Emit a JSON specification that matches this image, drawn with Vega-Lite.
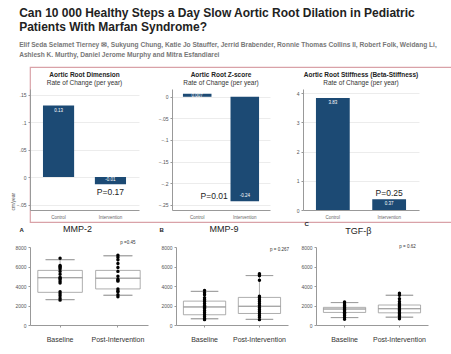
{
  "$schema": "https://vega.github.io/schema/vega-lite/v6.json",
  "background": "white",
  "padding": {"left": 10, "top": 6, "right": 0, "bottom": 0},
  "config": {
    "font": "Liberation Sans",
    "view": {"stroke": null},
    "axis": {"domainColor": "#999", "tickColor": "#999", "labelColor": "#555", "gridColor": "#ececec", "tickSize": 2, "labelFontSize": 5, "titleFontSize": 5, "titleColor": "#555", "titleFontWeight": "normal", "labelPadding": 2, "labelOverlap": false}
  },
  "title": {
    "text": ["Can 10 000 Healthy Steps a Day Slow Aortic Root Dilation in Pediatric", "Patients With Marfan Syndrome?"],
    "subtitle": ["Elif Seda Selamet Tierney ✉, Sukyung Chung, Katie Jo Stauffer, Jerrid Brabender, Ronnie Thomas Collins II, Robert Folk, Weidang Li,", "Ashlesh K. Murthy, Daniel Jerome Murphy and Mitra Esfandiarei"],
    "anchor": "start",
    "dx": 9,
    "font": "Liberation Sans",
    "fontSize": 12,
    "fontWeight": "bold",
    "color": "#222",
    "lineHeight": 14,
    "subtitleFont": "Liberation Sans",
    "subtitleFontSize": 6.6,
    "subtitleFontWeight": "bold",
    "subtitleColor": "#777",
    "subtitleLineHeight": 10,
    "subtitlePadding": 8,
    "offset": 7
  },
  "spacing": -3,
  "vconcat": [
    {
      "columns": 1,
      "align": "none",
      "spacing": {"row": -151, "column": 0},
      "concat": [
        {
          "width": 427,
          "height": 155,
          "view": {"stroke": "#d9a2a8", "strokeWidth": 1.2},
          "data": {"values": [{"t": ""}]},
          "mark": {"type": "text"},
          "encoding": {"text": {"field": "t"}}
        },
        {
          "hconcat": [
            {
              "width": 109,
              "height": 121,
              "title": {"text": "Aortic Root Dimension", "subtitle": "Rate of Change (per year)", "fontSize": 6.5, "fontWeight": "bold", "color": "#222", "subtitleFontSize": 6.5, "subtitleColor": "#333", "subtitlePadding": 1, "offset": 3, "anchor": "middle"},
              "data": {"values": [{"group": "Control", "v": 0.13, "label": "0.13"}, {"group": "Intervention", "v": -0.013, "label": "-0.01"}]},
              "encoding": {
                "x": {"field": "group", "type": "nominal", "sort": null, "scale": {"paddingInner": 0.4, "paddingOuter": 0.25}, "axis": {"title": null, "labelAngle": 0, "ticks": false, "labelFontSize": 4.5, "labelPadding": 4, "labelColor": "#666"}},
                "y": {"field": "v", "type": "quantitative", "title": "cm/year", "scale": {"domain": [-0.06, 0.16], "nice": false, "zero": false}, "axis": {"values": [-0.05, 0, 0.05, 0.1, 0.15], "labelOverlap": false, "labelExpr": "replace(format(datum.value, '~g'), '0.', '.')", "grid": true, "titleAnchor": "start", "titlePadding": 1}}
              },
              "layer": [
                {"mark": {"type": "bar", "color": "#1c4a74"}},
                {"mark": {"type": "rule", "color": "#e8919d", "strokeWidth": 1}, "encoding": {"y": {"datum": 0, "type": "quantitative", "title": "cm/year", "axis": {"values": [-0.05, 0, 0.05, 0.1, 0.15], "labelOverlap": false, "labelExpr": "replace(format(datum.value, '~g'), '0.', '.')", "grid": true, "titleAnchor": "start", "titlePadding": 1}}}},
                {"transform": [{"filter": "datum.v >= 0"}], "mark": {"type": "text", "color": "white", "fontSize": 4.5, "baseline": "middle", "dy": 5}, "encoding": {"text": {"field": "label"}}},
                {"transform": [{"filter": "datum.v < 0"}], "mark": {"type": "text", "color": "white", "fontSize": 4.5, "baseline": "middle", "dy": -4}, "encoding": {"text": {"field": "label"}}},
                {"data": {"values": [{"group": "Intervention", "v": -0.027, "label": "P=0.17"}]}, "mark": {"type": "text", "fontSize": 8.5, "color": "#222", "baseline": "middle"}, "encoding": {"text": {"field": "label"}}}
              ]
            },
            {
              "width": 98,
              "height": 121,
              "title": {"text": "Aortic Root Z-score", "subtitle": "Rate of Change (per year)", "fontSize": 6.5, "fontWeight": "bold", "color": "#222", "subtitleFontSize": 6.5, "subtitleColor": "#333", "subtitlePadding": 1, "offset": 3, "anchor": "middle"},
              "data": {"values": [{"group": "Control", "v": 0.007, "label": "0.007"}, {"group": "Intervention", "v": -0.242, "label": "-0.24"}]},
              "encoding": {
                "x": {"field": "group", "type": "nominal", "sort": null, "scale": {"paddingInner": 0.4, "paddingOuter": 0.23}, "axis": {"title": null, "labelAngle": 0, "ticks": false, "labelFontSize": 4.5, "labelPadding": 4, "labelColor": "#666"}},
                "y": {"field": "v", "type": "quantitative", "title": null, "scale": {"domain": [-0.262, 0.018], "nice": false, "zero": false}, "axis": {"values": [-0.25, -0.2, -0.15, -0.1, -0.05, 0], "labelOverlap": false, "labelExpr": "replace(format(datum.value, '~g'), '0.', '.')", "grid": true}}
              },
              "layer": [
                {"mark": {"type": "bar", "color": "#1c4a74"}},
                {"mark": {"type": "rule", "color": "#e8919d", "strokeWidth": 1}, "encoding": {"y": {"datum": 0, "type": "quantitative", "title": null, "axis": {"values": [-0.25, -0.2, -0.15, -0.1, -0.05, 0], "labelOverlap": false, "labelExpr": "replace(format(datum.value, '~g'), '0.', '.')", "grid": true}}}},
                {"transform": [{"filter": "datum.v >= 0"}], "mark": {"type": "text", "color": "white", "fontSize": 4.5, "baseline": "middle", "dy": 2}, "encoding": {"text": {"field": "label"}}},
                {"transform": [{"filter": "datum.v < 0"}], "mark": {"type": "text", "color": "white", "fontSize": 4.5, "baseline": "middle", "dy": -5}, "encoding": {"text": {"field": "label"}}},
                {"data": {"values": [{"group": "Control", "v": -0.23, "label": "P=0.01"}]}, "mark": {"type": "text", "fontSize": 8.5, "color": "#222", "baseline": "middle", "dx": 17}, "encoding": {"text": {"field": "label"}}}
              ]
            },
            {
              "width": 116,
              "height": 121,
              "title": {"text": "Aortic Root Stiffness (Beta-Stiffness)", "subtitle": "Rate of Change (per year)", "fontSize": 6.5, "fontWeight": "bold", "color": "#222", "subtitleFontSize": 6.5, "subtitleColor": "#333", "subtitlePadding": 1, "offset": 3, "anchor": "middle"},
              "data": {"values": [{"group": "Control", "v": 3.83, "label": "3.83"}, {"group": "Intervention", "v": 0.37, "label": "0.37"}]},
              "encoding": {
                "x": {"field": "group", "type": "nominal", "sort": null, "scale": {"paddingInner": 0.4, "paddingOuter": 0.23}, "axis": {"title": null, "labelAngle": 0, "ticks": false, "labelFontSize": 4.5, "labelPadding": 4, "labelColor": "#666"}},
                "y": {"field": "v", "type": "quantitative", "title": null, "scale": {"domain": [0, 4.14], "nice": false}, "axis": {"values": [0, 1, 2, 3, 4], "labelOverlap": false, "grid": true}}
              },
              "layer": [
                {"mark": {"type": "bar", "color": "#1c4a74"}},
                {"mark": {"type": "text", "color": "white", "fontSize": 4.5, "baseline": "middle", "dy": 5}, "encoding": {"text": {"field": "label"}}},
                {"data": {"values": [{"group": "Intervention", "v": 0.59, "label": "P=0.25"}]}, "mark": {"type": "text", "fontSize": 8.5, "color": "#222", "baseline": "middle"}, "encoding": {"text": {"field": "label"}}}
              ]
            }
          ],
          "spacing": 33,
          "bounds": "flush"
        }
      ]
    },
    {
      "hconcat": [
        {
          "width": 118,
          "height": 78,
          "title": {"text": "MMP-2", "fontSize": 9, "fontWeight": "normal", "color": "#222", "frame": "bounds", "offset": -8, "dx": -4},
          "encoding": {"x": {"field": "grp", "type": "nominal", "scale": {"domain": ["Baseline", "Post-Intervention"], "paddingInner": 0, "paddingOuter": 0.02}, "axis": {"title": null, "labelAngle": 0, "labelFontSize": 7, "labelColor": "#333", "labelPadding": 8, "tickSize": 2}}},
          "layer": [
            {"data": {"values": [{"grp": "Baseline", "lo": 2600, "q1": 3350, "med": 4850, "q3": 5600, "hi": 6700}, {"grp": "Post-Intervention", "lo": 3050, "q1": 3700, "med": 4800, "q3": 5600, "hi": 7100}]},
             "layer": [
               {"mark": {"type": "rule", "color": "#999", "strokeWidth": 0.8}, "encoding": {"y": {"field": "lo", "type": "quantitative", "title": "A", "scale": {"domain": [0, 8000], "nice": false}, "axis": {"values": [0, 2000, 4000, 6000, 8000], "labelOverlap": false, "format": "d", "grid": false, "titleAngle": 0, "titlePadding": 0, "titleX": -11, "titleY": -18, "titleFontSize": 6, "titleFontWeight": "bold", "titleColor": "#222", "titleAlign": "left", "titleBaseline": "middle"}}, "y2": {"field": "hi"}}},
               {"mark": {"type": "bar", "fill": "white", "stroke": "#999", "strokeWidth": 0.8, "width": {"band": 0.77}}, "encoding": {"y": {"field": "q1", "type": "quantitative", "title": "A", "axis": {"values": [0, 2000, 4000, 6000, 8000], "labelOverlap": false, "format": "d", "grid": false, "titleAngle": 0, "titlePadding": 0, "titleX": -11, "titleY": -18, "titleFontSize": 6, "titleFontWeight": "bold", "titleColor": "#222", "titleAlign": "left", "titleBaseline": "middle"}}, "y2": {"field": "q3"}}},
               {"mark": {"type": "bar", "fill": "white", "stroke": "#999", "strokeWidth": 0.8, "width": {"band": 0.77}}, "encoding": {"y": {"field": "med", "type": "quantitative", "title": "A", "axis": {"values": [0, 2000, 4000, 6000, 8000], "labelOverlap": false, "format": "d", "grid": false, "titleAngle": 0, "titlePadding": 0, "titleX": -11, "titleY": -18, "titleFontSize": 6, "titleFontWeight": "bold", "titleColor": "#222", "titleAlign": "left", "titleBaseline": "middle"}}, "y2": {"field": "med"}}},
               {"mark": {"type": "bar", "fill": "white", "stroke": "#999", "strokeWidth": 0.8, "width": {"band": 0.5}}, "encoding": {"y": {"field": "hi", "type": "quantitative", "title": "A", "axis": {"values": [0, 2000, 4000, 6000, 8000], "labelOverlap": false, "format": "d", "grid": false, "titleAngle": 0, "titlePadding": 0, "titleX": -11, "titleY": -18, "titleFontSize": 6, "titleFontWeight": "bold", "titleColor": "#222", "titleAlign": "left", "titleBaseline": "middle"}}, "y2": {"field": "hi"}}},
               {"mark": {"type": "bar", "fill": "white", "stroke": "#999", "strokeWidth": 0.8, "width": {"band": 0.5}}, "encoding": {"y": {"field": "lo", "type": "quantitative", "title": "A", "axis": {"values": [0, 2000, 4000, 6000, 8000], "labelOverlap": false, "format": "d", "grid": false, "titleAngle": 0, "titlePadding": 0, "titleX": -11, "titleY": -18, "titleFontSize": 6, "titleFontWeight": "bold", "titleColor": "#222", "titleAlign": "left", "titleBaseline": "middle"}}, "y2": {"field": "lo"}}}
             ]},
            {"data": {"values": [
              {"grp": "Baseline", "v": 6850}, {"grp": "Baseline", "v": 6100}, {"grp": "Baseline", "v": 6000}, {"grp": "Baseline", "v": 5900}, {"grp": "Baseline", "v": 5750}, {"grp": "Baseline", "v": 5500}, {"grp": "Baseline", "v": 5200}, {"grp": "Baseline", "v": 4900}, {"grp": "Baseline", "v": 4800}, {"grp": "Baseline", "v": 4700}, {"grp": "Baseline", "v": 4500}, {"grp": "Baseline", "v": 4300}, {"grp": "Baseline", "v": 3400}, {"grp": "Baseline", "v": 3200}, {"grp": "Baseline", "v": 3000}, {"grp": "Baseline", "v": 2750}, {"grp": "Baseline", "v": 2550},
              {"grp": "Post-Intervention", "v": 7150}, {"grp": "Post-Intervention", "v": 6950}, {"grp": "Post-Intervention", "v": 6700}, {"grp": "Post-Intervention", "v": 6300}, {"grp": "Post-Intervention", "v": 5900}, {"grp": "Post-Intervention", "v": 5500}, {"grp": "Post-Intervention", "v": 5000}, {"grp": "Post-Intervention", "v": 4700}, {"grp": "Post-Intervention", "v": 4600}, {"grp": "Post-Intervention", "v": 4500}, {"grp": "Post-Intervention", "v": 3700}, {"grp": "Post-Intervention", "v": 3500}, {"grp": "Post-Intervention", "v": 3400}, {"grp": "Post-Intervention", "v": 3100}, {"grp": "Post-Intervention", "v": 2900}
             ]},
             "mark": {"type": "circle", "size": 12, "color": "black", "opacity": 1}, "encoding": {"y": {"field": "v", "type": "quantitative", "title": "A", "axis": {"values": [0, 2000, 4000, 6000, 8000], "labelOverlap": false, "format": "d", "grid": false, "titleAngle": 0, "titlePadding": 0, "titleX": -11, "titleY": -18, "titleFontSize": 6, "titleFontWeight": "bold", "titleColor": "#222", "titleAlign": "left", "titleBaseline": "middle"}}}},
            {"data": {"values": [{"grp": "Post-Intervention", "v": 8400, "label": "p =0.45"}]}, "mark": {"type": "text", "fontSize": 4.5, "color": "#333", "dx": 10}, "encoding": {"y": {"field": "v", "type": "quantitative", "title": "A", "axis": {"values": [0, 2000, 4000, 6000, 8000], "labelOverlap": false, "format": "d", "grid": false, "titleAngle": 0, "titlePadding": 0, "titleX": -11, "titleY": -18, "titleFontSize": 6, "titleFontWeight": "bold", "titleColor": "#222", "titleAlign": "left", "titleBaseline": "middle"}}, "text": {"field": "label"}}}
          ]
        },
        {
          "width": 112,
          "height": 78,
          "title": {"text": "MMP-9", "fontSize": 9, "fontWeight": "normal", "color": "#222", "frame": "bounds", "offset": -8},
          "encoding": {"x": {"field": "grp", "type": "nominal", "scale": {"domain": ["Baseline", "Post-Intervention"], "paddingInner": 0, "paddingOuter": 0.02}, "axis": {"title": null, "labelAngle": 0, "labelFontSize": 7, "labelColor": "#333", "labelPadding": 8, "tickSize": 2}}},
          "layer": [
            {"data": {"values": [{"grp": "Baseline", "lo": 640, "q1": 1050, "med": 1850, "q3": 2450, "hi": 3450}, {"grp": "Post-Intervention", "lo": 580, "q1": 1180, "med": 1920, "q3": 2830, "hi": 5070}]},
             "layer": [
               {"mark": {"type": "rule", "color": "#999", "strokeWidth": 0.8}, "encoding": {"y": {"field": "lo", "type": "quantitative", "title": "B", "scale": {"domain": [0, 8000], "nice": false}, "axis": {"values": [0, 2000, 4000, 6000, 8000], "labelOverlap": false, "format": "d", "grid": false, "titleAngle": 0, "titlePadding": 0, "titleX": -17, "titleY": -18, "titleFontSize": 6, "titleFontWeight": "bold", "titleColor": "#222", "titleAlign": "left", "titleBaseline": "middle"}}, "y2": {"field": "hi"}}},
               {"mark": {"type": "bar", "fill": "white", "stroke": "#999", "strokeWidth": 0.8, "width": {"band": 0.77}}, "encoding": {"y": {"field": "q1", "type": "quantitative", "title": "B", "axis": {"values": [0, 2000, 4000, 6000, 8000], "labelOverlap": false, "format": "d", "grid": false, "titleAngle": 0, "titlePadding": 0, "titleX": -17, "titleY": -18, "titleFontSize": 6, "titleFontWeight": "bold", "titleColor": "#222", "titleAlign": "left", "titleBaseline": "middle"}}, "y2": {"field": "q3"}}},
               {"mark": {"type": "bar", "fill": "white", "stroke": "#999", "strokeWidth": 0.8, "width": {"band": 0.77}}, "encoding": {"y": {"field": "med", "type": "quantitative", "title": "B", "axis": {"values": [0, 2000, 4000, 6000, 8000], "labelOverlap": false, "format": "d", "grid": false, "titleAngle": 0, "titlePadding": 0, "titleX": -17, "titleY": -18, "titleFontSize": 6, "titleFontWeight": "bold", "titleColor": "#222", "titleAlign": "left", "titleBaseline": "middle"}}, "y2": {"field": "med"}}},
               {"mark": {"type": "bar", "fill": "white", "stroke": "#999", "strokeWidth": 0.8, "width": {"band": 0.5}}, "encoding": {"y": {"field": "hi", "type": "quantitative", "title": "B", "axis": {"values": [0, 2000, 4000, 6000, 8000], "labelOverlap": false, "format": "d", "grid": false, "titleAngle": 0, "titlePadding": 0, "titleX": -17, "titleY": -18, "titleFontSize": 6, "titleFontWeight": "bold", "titleColor": "#222", "titleAlign": "left", "titleBaseline": "middle"}}, "y2": {"field": "hi"}}},
               {"mark": {"type": "bar", "fill": "white", "stroke": "#999", "strokeWidth": 0.8, "width": {"band": 0.5}}, "encoding": {"y": {"field": "lo", "type": "quantitative", "title": "B", "axis": {"values": [0, 2000, 4000, 6000, 8000], "labelOverlap": false, "format": "d", "grid": false, "titleAngle": 0, "titlePadding": 0, "titleX": -17, "titleY": -18, "titleFontSize": 6, "titleFontWeight": "bold", "titleColor": "#222", "titleAlign": "left", "titleBaseline": "middle"}}, "y2": {"field": "lo"}}}
             ]},
            {"data": {"values": [
              {"grp": "Baseline", "v": 3550}, {"grp": "Baseline", "v": 3300}, {"grp": "Baseline", "v": 3100}, {"grp": "Baseline", "v": 2800}, {"grp": "Baseline", "v": 2600}, {"grp": "Baseline", "v": 2400}, {"grp": "Baseline", "v": 2200}, {"grp": "Baseline", "v": 2000}, {"grp": "Baseline", "v": 1900}, {"grp": "Baseline", "v": 1800}, {"grp": "Baseline", "v": 1700}, {"grp": "Baseline", "v": 1500}, {"grp": "Baseline", "v": 1300}, {"grp": "Baseline", "v": 1100}, {"grp": "Baseline", "v": 900}, {"grp": "Baseline", "v": 700}, {"grp": "Baseline", "v": 550},
              {"grp": "Post-Intervention", "v": 5250}, {"grp": "Post-Intervention", "v": 5150}, {"grp": "Post-Intervention", "v": 5050}, {"grp": "Post-Intervention", "v": 4600}, {"grp": "Post-Intervention", "v": 2950}, {"grp": "Post-Intervention", "v": 2800}, {"grp": "Post-Intervention", "v": 2600}, {"grp": "Post-Intervention", "v": 2400}, {"grp": "Post-Intervention", "v": 2200}, {"grp": "Post-Intervention", "v": 2000}, {"grp": "Post-Intervention", "v": 1800}, {"grp": "Post-Intervention", "v": 1600}, {"grp": "Post-Intervention", "v": 1400}, {"grp": "Post-Intervention", "v": 1200}, {"grp": "Post-Intervention", "v": 1000}, {"grp": "Post-Intervention", "v": 800}, {"grp": "Post-Intervention", "v": 550}
             ]},
             "mark": {"type": "circle", "size": 12, "color": "black", "opacity": 1}, "encoding": {"y": {"field": "v", "type": "quantitative", "title": "B", "axis": {"values": [0, 2000, 4000, 6000, 8000], "labelOverlap": false, "format": "d", "grid": false, "titleAngle": 0, "titlePadding": 0, "titleX": -17, "titleY": -18, "titleFontSize": 6, "titleFontWeight": "bold", "titleColor": "#222", "titleAlign": "left", "titleBaseline": "middle"}}}},
            {"data": {"values": [{"grp": "Post-Intervention", "v": 7700, "label": "p = 0.267"}]}, "mark": {"type": "text", "fontSize": 4.5, "color": "#333", "dx": 20}, "encoding": {"y": {"field": "v", "type": "quantitative", "title": "B", "axis": {"values": [0, 2000, 4000, 6000, 8000], "labelOverlap": false, "format": "d", "grid": false, "titleAngle": 0, "titlePadding": 0, "titleX": -17, "titleY": -18, "titleFontSize": 6, "titleFontWeight": "bold", "titleColor": "#222", "titleAlign": "left", "titleBaseline": "middle"}}, "text": {"field": "label"}}}
          ]
        },
        {
          "width": 112,
          "height": 78,
          "title": {"text": "TGF-β", "fontSize": 9, "fontWeight": "normal", "color": "#222", "frame": "bounds", "offset": -16, "dx": -6},
          "encoding": {"x": {"field": "grp", "type": "nominal", "scale": {"domain": ["Baseline", "Post-Intervention"], "paddingInner": 0, "paddingOuter": 0.02}, "axis": {"title": null, "labelAngle": 0, "labelFontSize": 7, "labelColor": "#333", "labelPadding": 8, "tickSize": 2}}},
          "layer": [
            {"data": {"values": [{"grp": "Baseline", "lo": 760, "q1": 1290, "med": 1640, "q3": 1810, "hi": 2300}, {"grp": "Post-Intervention", "lo": 800, "q1": 1250, "med": 1670, "q3": 2050, "hi": 3050}]},
             "layer": [
               {"mark": {"type": "rule", "color": "#999", "strokeWidth": 0.8}, "encoding": {"y": {"field": "lo", "type": "quantitative", "title": "C", "scale": {"domain": [0, 8000], "nice": false}, "axis": {"values": [0, 2000, 4000, 6000, 8000], "labelOverlap": false, "format": "d", "grid": false, "titleAngle": 0, "titlePadding": 0, "titleX": -12, "titleY": -24, "titleFontSize": 6, "titleFontWeight": "bold", "titleColor": "#222", "titleAlign": "left", "titleBaseline": "middle"}}, "y2": {"field": "hi"}}},
               {"mark": {"type": "bar", "fill": "white", "stroke": "#999", "strokeWidth": 0.8, "width": {"band": 0.77}}, "encoding": {"y": {"field": "q1", "type": "quantitative", "title": "C", "axis": {"values": [0, 2000, 4000, 6000, 8000], "labelOverlap": false, "format": "d", "grid": false, "titleAngle": 0, "titlePadding": 0, "titleX": -12, "titleY": -24, "titleFontSize": 6, "titleFontWeight": "bold", "titleColor": "#222", "titleAlign": "left", "titleBaseline": "middle"}}, "y2": {"field": "q3"}}},
               {"mark": {"type": "bar", "fill": "white", "stroke": "#999", "strokeWidth": 0.8, "width": {"band": 0.77}}, "encoding": {"y": {"field": "med", "type": "quantitative", "title": "C", "axis": {"values": [0, 2000, 4000, 6000, 8000], "labelOverlap": false, "format": "d", "grid": false, "titleAngle": 0, "titlePadding": 0, "titleX": -12, "titleY": -24, "titleFontSize": 6, "titleFontWeight": "bold", "titleColor": "#222", "titleAlign": "left", "titleBaseline": "middle"}}, "y2": {"field": "med"}}},
               {"mark": {"type": "bar", "fill": "white", "stroke": "#999", "strokeWidth": 0.8, "width": {"band": 0.5}}, "encoding": {"y": {"field": "hi", "type": "quantitative", "title": "C", "axis": {"values": [0, 2000, 4000, 6000, 8000], "labelOverlap": false, "format": "d", "grid": false, "titleAngle": 0, "titlePadding": 0, "titleX": -12, "titleY": -24, "titleFontSize": 6, "titleFontWeight": "bold", "titleColor": "#222", "titleAlign": "left", "titleBaseline": "middle"}}, "y2": {"field": "hi"}}},
               {"mark": {"type": "bar", "fill": "white", "stroke": "#999", "strokeWidth": 0.8, "width": {"band": 0.5}}, "encoding": {"y": {"field": "lo", "type": "quantitative", "title": "C", "axis": {"values": [0, 2000, 4000, 6000, 8000], "labelOverlap": false, "format": "d", "grid": false, "titleAngle": 0, "titlePadding": 0, "titleX": -12, "titleY": -24, "titleFontSize": 6, "titleFontWeight": "bold", "titleColor": "#222", "titleAlign": "left", "titleBaseline": "middle"}}, "y2": {"field": "lo"}}}
             ]},
            {"data": {"values": [
              {"grp": "Baseline", "v": 2350}, {"grp": "Baseline", "v": 2150}, {"grp": "Baseline", "v": 2000}, {"grp": "Baseline", "v": 1850}, {"grp": "Baseline", "v": 1750}, {"grp": "Baseline", "v": 1600}, {"grp": "Baseline", "v": 1450}, {"grp": "Baseline", "v": 1300}, {"grp": "Baseline", "v": 1250}, {"grp": "Baseline", "v": 1150}, {"grp": "Baseline", "v": 1000}, {"grp": "Baseline", "v": 800}, {"grp": "Baseline", "v": 600},
              {"grp": "Post-Intervention", "v": 3250}, {"grp": "Post-Intervention", "v": 3050}, {"grp": "Post-Intervention", "v": 2700}, {"grp": "Post-Intervention", "v": 2400}, {"grp": "Post-Intervention", "v": 2200}, {"grp": "Post-Intervention", "v": 2050}, {"grp": "Post-Intervention", "v": 1900}, {"grp": "Post-Intervention", "v": 1750}, {"grp": "Post-Intervention", "v": 1600}, {"grp": "Post-Intervention", "v": 1450}, {"grp": "Post-Intervention", "v": 1300}, {"grp": "Post-Intervention", "v": 1150}, {"grp": "Post-Intervention", "v": 1000}, {"grp": "Post-Intervention", "v": 850}, {"grp": "Post-Intervention", "v": 650}
             ]},
             "mark": {"type": "circle", "size": 12, "color": "black", "opacity": 1}, "encoding": {"y": {"field": "v", "type": "quantitative", "title": "C", "axis": {"values": [0, 2000, 4000, 6000, 8000], "labelOverlap": false, "format": "d", "grid": false, "titleAngle": 0, "titlePadding": 0, "titleX": -12, "titleY": -24, "titleFontSize": 6, "titleFontWeight": "bold", "titleColor": "#222", "titleAlign": "left", "titleBaseline": "middle"}}}},
            {"data": {"values": [{"grp": "Post-Intervention", "v": 7950, "label": "p = 0.62"}]}, "mark": {"type": "text", "fontSize": 4.5, "color": "#333", "dx": 8}, "encoding": {"y": {"field": "v", "type": "quantitative", "title": "C", "axis": {"values": [0, 2000, 4000, 6000, 8000], "labelOverlap": false, "format": "d", "grid": false, "titleAngle": 0, "titlePadding": 0, "titleX": -12, "titleY": -24, "titleFontSize": 6, "titleFontWeight": "bold", "titleColor": "#222", "titleAlign": "left", "titleBaseline": "middle"}}, "text": {"field": "label"}}}
          ]
        }
      ],
      "spacing": 28,
      "bounds": "flush"
    }
  ]
}
